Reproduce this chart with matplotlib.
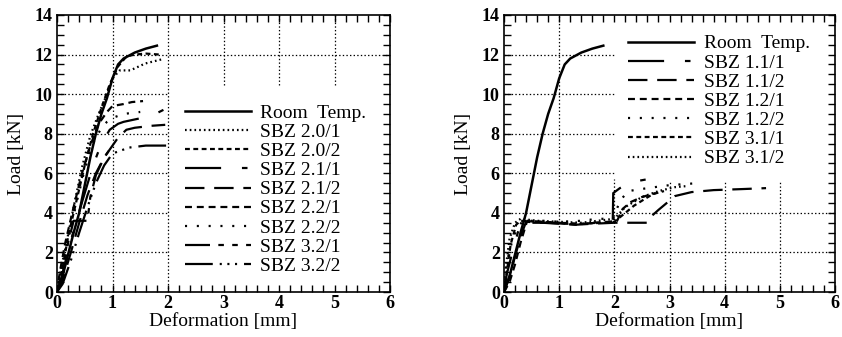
import matplotlib
matplotlib.use("Agg")
import matplotlib.pyplot as plt
from matplotlib.ticker import MultipleLocator

plt.rcParams['font.family'] = ['Liberation Serif', 'DejaVu Serif']
plt.rcParams['lines.scale_dashes'] = False

# Room temperature reference (same in both panels)
rt_x = [0, 0.1, 0.2, 0.3, 0.4, 0.5, 0.6, 0.7, 0.8, 0.9, 1.0, 1.1, 1.2, 1.4, 1.6, 1.8]
rt_y = [0, 0.8, 1.9, 3.0, 4.0, 5.4, 6.8, 8.0, 9.0, 9.8, 10.8, 11.5, 11.8, 12.1, 12.3, 12.45]

# Left panel series
s20_1_x = [0, 0.05, 0.15, 0.3, 0.45, 0.6, 0.75, 0.9, 1.0, 1.13, 1.32, 1.59, 1.89]
s20_1_y = [0, 0.9, 2.2, 4.3, 6.3, 7.9, 9.0, 10.0, 10.8, 11.2, 11.2, 11.55, 11.76]
s20_2_x = [0, 0.1, 0.2, 0.35, 0.5, 0.65, 0.8, 0.95, 1.1, 1.25, 1.4, 1.6, 1.85]
s20_2_y = [0, 1.2, 2.8, 4.6, 6.4, 8.0, 9.3, 10.5, 11.4, 11.9, 12.0, 12.05, 12.0]
s21_1_x = [0, 0.08, 0.2, 0.35, 0.5, 0.65, 0.8, 0.95, 1.1, 1.2, 1.45, 1.7, 1.95]
s21_1_y = [0, 0.7, 2.1, 3.6, 5.0, 6.4, 7.5, 8.2, 8.5, 8.6, 8.75, 8.9, 9.25]
s21_2_x = [0, 0.1, 0.25, 0.4, 0.55, 0.7, 0.85, 1.0, 1.1, 1.25, 1.4, 1.7, 1.95]
s21_2_y = [0, 0.6, 2.0, 3.5, 4.9, 6.0, 6.8, 7.4, 7.8, 8.2, 8.3, 8.4, 8.45]
s22_1_x = [0, 0.05, 0.15, 0.3, 0.45, 0.6, 0.75, 0.9, 1.0, 1.2, 1.35, 1.55]
s22_1_y = [0, 1.0, 2.5, 4.3, 6.0, 7.4, 8.5, 9.1, 9.4, 9.5, 9.6, 9.65]
s22_2_x = [0, 0.1, 0.2, 0.35, 0.5, 0.65, 0.8, 0.9, 1.0, 1.2, 1.5]
s22_2_y = [0, 1.2, 2.6, 4.5, 6.2, 7.5, 8.3, 8.6, 8.8, 9.0, 9.1]
s32_1_x = [0, 0.1, 0.2, 0.3, 0.55, 0.6, 0.7, 0.85, 1.0]
s32_1_y = [0, 0.8, 2.5, 3.6, 3.6, 4.8, 5.9, 6.8, 7.4]
s32_2_x = [0, 0.1, 0.25, 0.4, 0.55, 0.7, 0.85, 1.0, 1.1, 1.3, 1.6, 1.98]
s32_2_y = [0, 0.4, 1.6, 3.0, 4.3, 5.5, 6.4, 7.0, 7.1, 7.3, 7.4, 7.4]

# Right panel series
s11_1_x = [0, 0.05, 0.15, 0.25, 0.32, 0.5, 0.8, 1.1, 1.4, 1.7, 1.97, 1.98, 2.1, 2.3, 2.6]
s11_1_y = [0, 0.9, 2.0, 3.0, 3.55, 3.5, 3.5, 3.45, 3.45, 3.5, 3.5, 5.0, 5.25, 5.55, 5.7]
s11_2_x = [0, 0.1, 0.2, 0.3, 0.4, 0.7, 1.0, 1.3, 1.6, 2.0, 2.3, 2.6, 2.7, 2.8, 2.95, 3.1, 3.4, 3.8, 4.3, 4.75]
s11_2_y = [0, 0.8, 1.8, 2.8, 3.55, 3.5, 3.45, 3.4, 3.45, 3.5, 3.5, 3.5, 3.9, 4.15, 4.5, 4.85, 5.05, 5.15, 5.2, 5.25]
s12_1_x = [0, 0.1, 0.2, 0.3, 0.42, 0.7, 1.0, 1.3, 1.6, 1.9, 2.05, 2.15, 2.3, 2.5, 2.75]
s12_1_y = [0, 0.5, 1.4, 2.5, 3.6, 3.55, 3.5, 3.4, 3.5, 3.55, 3.6, 4.2, 4.55, 4.8, 5.0]
s12_2_x = [0, 0.05, 0.15, 0.25, 0.35, 0.7, 1.0, 1.4, 1.7, 1.98, 2.1, 2.25, 2.6, 3.0, 3.5]
s12_2_y = [0, 1.5, 2.6, 3.3, 3.6, 3.6, 3.55, 3.6, 3.7, 3.7, 4.6, 5.1, 5.25, 5.4, 5.5]
s31_1_x = [0, 0.05, 0.12, 0.22, 0.3, 0.6, 1.0, 1.4, 1.8, 2.0, 2.2, 2.35, 2.55, 2.7, 2.9]
s31_1_y = [0, 1.0, 2.4, 3.4, 3.6, 3.55, 3.5, 3.45, 3.5, 3.55, 4.0, 4.35, 4.7, 4.95, 5.1]
s31_2_x = [0, 0.03, 0.1, 0.2, 0.3, 0.6, 1.0, 1.4, 1.7, 2.0, 2.2, 2.5, 2.8, 3.1, 3.3]
s31_2_y = [0, 1.2, 2.7, 3.5, 3.7, 3.6, 3.55, 3.5, 3.6, 3.7, 4.3, 4.8, 5.1, 5.3, 5.35]

solid = '-'
dots_dense = (0, (1.2, 2.2))
dots_sparse = (0, (1.5, 7))
dash_med = (0, (5, 3.5))
dash_short = (0, (3.5, 2.5))
dash_long = (0, (14, 7))
long_short = (0, (26, 15, 4, 15))
long_two = (0, (18, 6, 4, 6, 4, 6))
long_dots = (0, (20, 5, 1.5, 4, 1.5, 4, 1.5, 5))

left_series = [
    (rt_x, rt_y, solid, "Room  Temp."),
    (s20_1_x, s20_1_y, dots_dense, "SBZ 2.0/1"),
    (s20_2_x, s20_2_y, dash_short, "SBZ 2.0/2"),
    (s21_1_x, s21_1_y, long_short, "SBZ 2.1/1"),
    (s21_2_x, s21_2_y, dash_long, "SBZ 2.1/2"),
    (s22_1_x, s22_1_y, dash_med, "SBZ 2.2/1"),
    (s22_2_x, s22_2_y, dots_sparse, "SBZ 2.2/2"),
    (s32_1_x, s32_1_y, long_two, "SBZ 3.2/1"),
    (s32_2_x, s32_2_y, long_dots, "SBZ 3.2/2"),
]
right_series = [
    (rt_x, rt_y, solid, "Room  Temp."),
    (s11_1_x, s11_1_y, long_short, "SBZ 1.1/1"),
    (s11_2_x, s11_2_y, dash_long, "SBZ 1.1/2"),
    (s12_1_x, s12_1_y, dash_med, "SBZ 1.2/1"),
    (s12_2_x, s12_2_y, dots_sparse, "SBZ 1.2/2"),
    (s31_1_x, s31_1_y, dash_short, "SBZ 3.1/1"),
    (s31_2_x, s31_2_y, dots_dense, "SBZ 3.1/2"),
]

fig = plt.figure(figsize=(8.42, 3.37), dpi=100)
ax1 = fig.add_axes([0.0677, 0.1335, 0.3955, 0.822])
ax2 = fig.add_axes([0.5986, 0.1335, 0.3931, 0.822])

grid_kw = dict(color='black', lw=0.9, ls=(0, (1, 1.6)), zorder=1)


def style_axes(ax):
    ax.set_xlim(0, 6)
    ax.set_ylim(0, 14)
    ax.xaxis.set_major_locator(MultipleLocator(1))
    ax.xaxis.set_minor_locator(MultipleLocator(0.2))
    ax.yaxis.set_major_locator(MultipleLocator(2))
    ax.yaxis.set_minor_locator(MultipleLocator(0.5))
    ax.tick_params(which='both', direction='in', top=True, right=True,
                   length=5, width=1)
    ax.tick_params(axis='x', pad=2)
    ax.tick_params(axis='y', pad=3)
    for lab in ax.get_xticklabels() + ax.get_yticklabels():
        lab.set_fontweight('bold')
        lab.set_fontsize(13)
    for sp in ax.spines.values():
        sp.set_linewidth(1.2)
    ax.set_xlabel("Deformation [mm]", fontsize=14, labelpad=1)
    ax.set_ylabel("Load [kN]", fontsize=14, labelpad=7)


for ax, series in [(ax1, left_series), (ax2, right_series)]:
    for x, y, ls, lab in series:
        ax.plot(x, y, color='black', ls=ls,
                lw=1.8 if ls == solid else 1.6, label=lab, zorder=3)
    style_axes(ax)

# partial grid lines (legend area left blank as in the original)
ax1.axvline(1, **grid_kw)
ax1.axvline(2, **grid_kw)
for gx in [3, 4, 5]:
    ax1.axvline(gx, ymin=10.45 / 14, ymax=1, **grid_kw)
ax1.axhline(12, **grid_kw)
for gy in [2, 4, 6, 8, 10]:
    ax1.axhline(gy, xmin=0, xmax=2 / 6, **grid_kw)

ax2.axvline(1, **grid_kw)
ax2.axvline(2, ymin=0, ymax=5.7 / 14, **grid_kw)
for gx in [3, 4, 5]:
    ax2.axvline(gx, ymin=0, ymax=5.6 / 14, **grid_kw)
for gy in [2, 4]:
    ax2.axhline(gy, **grid_kw)
for gy in [6, 8, 10, 12]:
    ax2.axhline(gy, xmin=0, xmax=2 / 6, **grid_kw)

leg_kw = dict(loc='upper left', frameon=False, fontsize=14, handlelength=3.4,
              handletextpad=0.5, labelspacing=0.08, borderpad=0,
              borderaxespad=0)
ax1.legend(bbox_to_anchor=(2.3, 9.5), bbox_transform=ax1.transData, **leg_kw)
ax2.legend(bbox_to_anchor=(2.25, 13.0), bbox_transform=ax2.transData, **leg_kw)

fig.savefig("out.png", dpi=100)
